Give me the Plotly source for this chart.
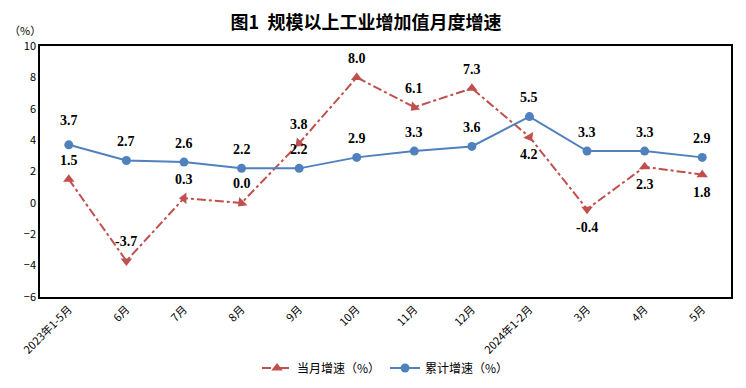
import plotly.graph_objects as go

categories = ["2023年1-5月", "6月", "7月", "8月", "9月", "10月", "11月", "12月",
              "2024年1-2月", "3月", "4月", "5月"]
monthly = [1.5, -3.7, 0.3, 0.0, 3.8, 8.0, 6.1, 7.3, 4.2, -0.4, 2.3, 1.8]
cumulative = [3.7, 2.7, 2.6, 2.2, 2.2, 2.9, 3.3, 3.6, 5.5, 3.3, 3.3, 2.9]
monthly_label_below = [False, False, False, False, False, False, False, False, True, True, True, True]
monthly_marker_angle = [0, 180, 270, 225, 225, 0, 225, 0, 150, 180, 0, 0]

RED = "#C0504D"
BLUE = "#4F81BD"
W, H = 738, 380  # page has an 8px body margin

fig = go.Figure()
fig.add_trace(go.Scatter(
    x=categories, y=monthly, name="当月增速（%）", mode="lines+markers",
    line=dict(color=RED, width=2, dash="dashdot"),
    marker=dict(symbol="triangle-up", size=10, color=RED, angle=monthly_marker_angle),
))
fig.add_trace(go.Scatter(
    x=categories, y=cumulative, name="累计增速（%）", mode="lines+markers",
    line=dict(color=BLUE, width=2),
    marker=dict(symbol="circle", size=9, color=BLUE),
))

label_font = dict(family="Liberation Serif", size=14, color="black")
for c, v, below in zip(categories, monthly, monthly_label_below):
    fig.add_annotation(x=c, y=v, text=f"<b>{v:.1f}</b>", showarrow=False,
                       yshift=-18 if below else 19, font=label_font)
for i, (c, v) in enumerate(zip(categories, cumulative)):
    fig.add_annotation(x=c, y=v, text=f"<b>{v:.1f}</b>", showarrow=False,
                       yshift=24 if i == 0 else 19, font=label_font)

fig.add_annotation(x=-0.0217, y=1.0, xref="paper", yref="paper", xanchor="center", yanchor="middle",
                   yshift=16, text="（%）", showarrow=False,
                   font=dict(family="Noto Sans CJK SC", size=11, color="black"))

fig.update_layout(
    width=W, height=H,
    margin=dict(l=32, r=15, t=38, b=91, autoexpand=False),
    paper_bgcolor="white", plot_bgcolor="white",
    title=dict(text="<b>图1  规模以上工业增加值月度增速</b>", x=358 / W, xanchor="center",
               xref="container", y=1 - 15 / H, yref="container", yanchor="middle",
               font=dict(family="Noto Sans CJK SC", size=18, color="black")),
    font=dict(family="Noto Sans CJK SC", size=11, color="black"),
    showlegend=True,
    legend=dict(orientation="h", x=0.5, xanchor="center", y=20 / H, yref="container",
                yanchor="middle",
                font=dict(family="Noto Sans CJK SC", size=12, color="black"),
                itemwidth=30, tracegroupgap=0),
)
fig.update_xaxes(type="category", range=[-0.5, 11.5], tickangle=-45, showgrid=False,
                 showline=True, linecolor="black", linewidth=1.5, mirror=True,
                 ticks="", tickfont=dict(size=11), automargin=False)
fig.update_yaxes(range=[-6, 10], dtick=2, showgrid=False, zeroline=False,
                 showline=True, linecolor="black", linewidth=1.5, mirror=True,
                 ticks="", tickfont=dict(size=11), automargin=False)

fig.write_html("out.html")
